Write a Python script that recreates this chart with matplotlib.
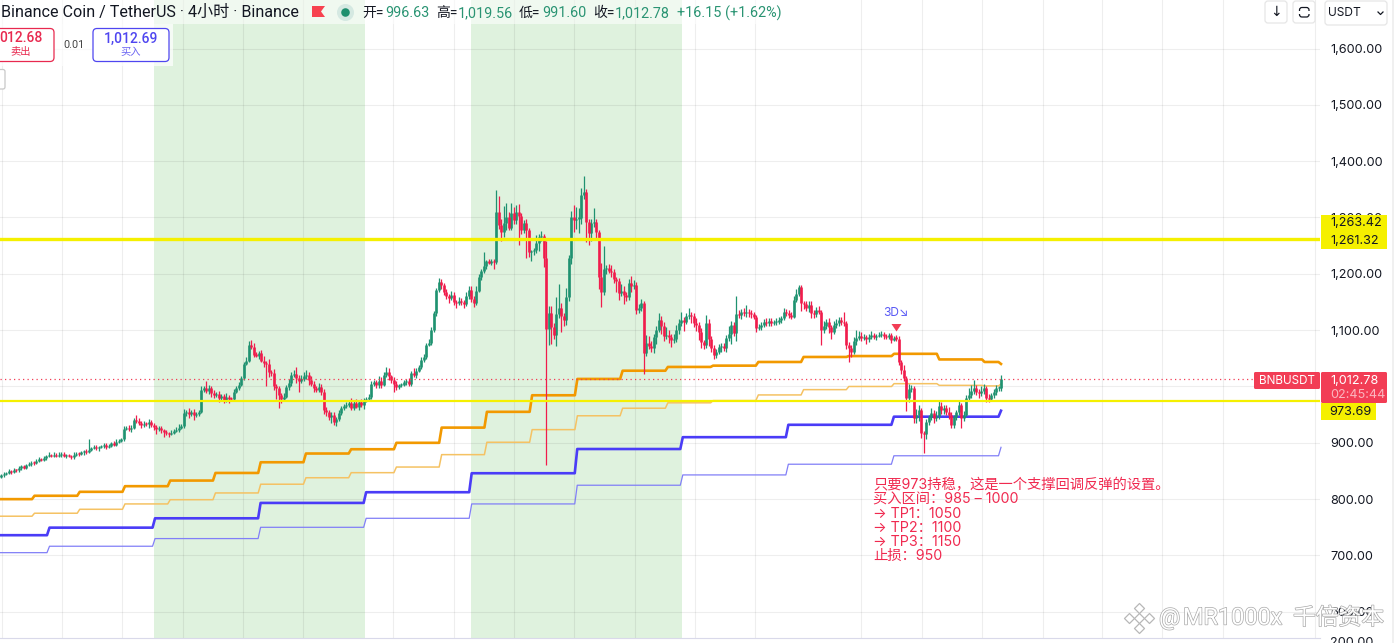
import matplotlib
matplotlib.use("Agg")
import matplotlib.patheffects as pe
import numpy as np
from matplotlib import pyplot as plt
from matplotlib.patches import FancyBboxPatch, Polygon, Rectangle

# 4小时收盘价, 每行 20 根
closes = [
    842,
    845, 846, 850, 848, 852, 851, 855, 858, 856, 860, 862, 865, 864, 868, 871, 870, 873, 876, 878, 877,
    879, 877, 878, 880, 876, 878, 877, 875, 879, 881, 880, 883, 885, 884, 888, 891, 893, 890, 892, 894,
    896, 893, 895, 899, 897, 902, 904, 906, 925, 926, 924, 927, 941, 938, 936, 932, 934, 933, 937, 931,
    928, 925, 927, 922, 919, 917, 915, 918, 921, 923, 926, 930, 953, 955, 951, 955, 949, 952, 955, 994,
    998, 992, 997, 989, 985, 987, 980, 983, 976, 982, 978, 977, 990, 997, 1003, 1015, 1040, 1046, 1074, 1070,
    1056, 1055, 1060, 1046, 1042, 1040, 1026, 1024, 1000, 997, 985, 978, 982, 999, 1006, 1020, 1022, 1015, 1010, 1014,
    1018, 1020, 1011, 1004, 997, 994, 999, 990, 958, 955, 946, 950, 937, 942, 953, 962, 965, 968, 971, 962,
    971, 964, 972, 968, 975, 978, 982, 1005, 1008, 1002, 1010, 1003, 1020, 1026, 1018, 1012, 1005, 999, 1002, 1003,
    1008, 1010, 1004, 1024, 1020, 1028, 1035, 1047, 1052, 1074, 1078, 1100, 1130, 1171, 1185, 1180, 1168, 1160, 1157, 1162,
    1150, 1148, 1152, 1150, 1146, 1160, 1172, 1155, 1149, 1170, 1195, 1205, 1213, 1222, 1220, 1222, 1221, 1310, 1287, 1274,
    1290, 1301, 1282, 1308, 1295, 1310, 1302, 1278, 1290, 1278, 1238, 1240, 1242, 1255, 1265, 1268, 1228, 1102, 1130, 1105,
    1092, 1128, 1140, 1125, 1118, 1159, 1228, 1300, 1295, 1298, 1299, 1340, 1345, 1292, 1272, 1290, 1292, 1275, 1195, 1168,
    1208, 1210, 1205, 1203, 1190, 1188, 1166, 1170, 1162, 1159, 1184, 1178, 1181, 1136, 1140, 1148, 1060, 1077, 1072, 1068,
    1088, 1100, 1118, 1108, 1090, 1092, 1088, 1082, 1085, 1100, 1112, 1118, 1115, 1125, 1127, 1125, 1113, 1110, 1097, 1079,
    1074, 1113, 1085, 1068, 1056, 1062, 1070, 1072, 1068, 1086, 1094, 1109, 1095, 1128, 1127, 1132, 1130, 1132, 1131, 1128,
    1123, 1104, 1105, 1110, 1115, 1112, 1116, 1113, 1114, 1115, 1118, 1122, 1132, 1130, 1127, 1124, 1154, 1165, 1177, 1148,
    1146, 1139, 1144, 1130, 1128, 1135, 1132, 1100, 1108, 1115, 1105, 1097, 1110, 1112, 1118, 1115, 1113, 1074, 1068, 1062,
    1080, 1086, 1090, 1086, 1088, 1084, 1088, 1092, 1087, 1090, 1092, 1094, 1090, 1088, 1092, 1083, 1086, 1085, 1044, 1030,
    1015, 979, 995, 997, 944, 950, 958, 918, 915, 937, 945, 953, 944, 948, 965, 958, 962, 955, 949, 932,
    945, 955, 968, 944, 950, 979, 985, 992, 997, 990, 988, 992, 997, 980, 978, 985, 990, 996.63, 996.63, 1012.78,
]
upper_wicks = [
    3,
    3, 2, 4, 2, 3, 2, 4, 3, 2, 3, 4, 2, 3, 4, 3, 2, 3, 3, 5, 2,
    4, 3, 5, 3, 4, 2, 3, 2, 4, 3, 2, 3, 3, 4, 19, 2, 4, 3, 3, 2,
    3, 4, 3, 2, 5, 4, 3, 3, 4, 3, 6, 4, 3, 9, 6, 3, 4, 3, 6, 4,
    5, 4, 3, 3, 2, 3, 2, 4, 3, 5, 8, 3, 7, 3, 6, 4, 5, 3, 4, 6,
    3, 12, 6, 4, 5, 3, 5, 3, 4, 6, 3, 4, 5, 3, 5, 4, 3, 6, 6, 8,
    8, 5, 3, 4, 9, 4, 8, 4, 7, 5, 4, 3, 6, 4, 8, 6, 7, 12, 5, 6,
    7, 10, 5, 8, 6, 4, 7, 5, 5, 6, 3, 4, 5, 3, 6, 4, 4, 5, 3, 8,
    3, 6, 4, 5, 4, 3, 5, 4, 3, 4, 8, 6, 5, 8, 6, 3, 5, 4, 3, 3,
    4, 3, 5, 3, 8, 4, 3, 5, 6, 4, 6, 5, 4, 3, 8, 6, 4, 5, 5, 7,
    5, 4, 6, 5, 4, 8, 6, 6, 5, 8, 4, 4, 26, 3, 5, 5, 5, 39, 28, 10,
    30, 25, 8, 18, 10, 12, 14, 6, 5, 8, 3, 3, 4, 14, 5, 8, 3, 30, 12, 12,
    8, 30, 42, 8, 6, 16, 6, 12, 22, 20, 18, 12, 29, 5, 5, 8, 25, 5, 3, 25,
    42, 5, 8, 10, 6, 4, 5, 12, 8, 5, 6, 12, 8, 4, 6, 8, 4, 14, 12, 8,
    6, 8, 12, 8, 6, 14, 8, 6, 8, 10, 8, 15, 5, 6, 12, 5, 6, 8, 5, 6,
    4, 14, 6, 5, 5, 5, 6, 6, 5, 6, 14, 8, 6, 33, 8, 6, 8, 12, 6, 5,
    5, 4, 6, 4, 5, 6, 5, 6, 4, 6, 5, 4, 8, 6, 5, 6, 6, 8, 3, 4,
    3, 6, 8, 8, 5, 6, 8, 4, 8, 5, 6, 4, 6, 8, 6, 5, 18, 3, 5, 6,
    8, 14, 8, 6, 5, 4, 5, 6, 3, 4, 4, 5, 3, 4, 3, 3, 4, 5, 4, 3,
    8, 3, 10, 5, 3, 10, 10, 4, 3, 6, 5, 8, 5, 8, 10, 8, 6, 5, 8, 5,
    5, 4, 8, 3, 6, 6, 12, 10, 14, 6, 5, 8, 8, 3, 6, 4, 5, 6, 5, 6.78,
]
lower_wicks = [
    2,
    2, 3, 2, 3, 2, 3, 2, 4, 2, 3, 2, 3, 4, 2, 2, 3, 2, 3, 2, 3,
    3, 2, 3, 4, 2, 3, 2, 4, 3, 2, 3, 2, 4, 3, 2, 3, 2, 3, 4, 2,
    3, 4, 2, 3, 2, 3, 2, 2, 3, 2, 3, 4, 2, 3, 4, 5, 4, 3, 6, 3,
    6, 9, 4, 5, 8, 3, 4, 2, 3, 2, 3, 2, 3, 5, 7, 3, 8, 3, 5, 2,
    4, 3, 6, 8, 5, 3, 7, 4, 6, 3, 8, 3, 3, 2, 3, 2, 3, 2, 2, 4,
    4, 3, 6, 3, 8, 40, 10, 5, 6, 20, 24, 8, 4, 3, 5, 6, 4, 8, 20, 4,
    5, 4, 8, 4, 7, 4, 4, 5, 6, 8, 5, 10, 6, 8, 3, 4, 4, 3, 5, 3,
    4, 3, 6, 4, 8, 3, 3, 4, 5, 4, 4, 5, 3, 4, 6, 5, 14, 5, 3, 3,
    3, 5, 4, 3, 3, 5, 3, 4, 3, 4, 3, 5, 4, 5, 4, 7, 6, 5, 8, 4,
    6, 8, 4, 6, 7, 3, 5, 5, 8, 4, 3, 6, 3, 4, 3, 4, 12, 4, 8, 15,
    8, 12, 5, 4, 6, 6, 51, 8, 6, 50, 8, 16, 6, 5, 14, 6, 16, 241, 28, 30,
    8, 20, 6, 28, 10, 8, 8, 10, 20, 15, 25, 10, 8, 35, 20, 14, 6, 12, 22, 27,
    6, 8, 4, 8, 6, 20, 12, 5, 16, 8, 5, 10, 5, 8, 5, 6, 38, 6, 5, 6,
    8, 12, 4, 14, 10, 5, 10, 12, 5, 6, 6, 5, 16, 4, 5, 12, 8, 12, 14, 10,
    8, 6, 14, 6, 8, 6, 5, 8, 5, 6, 5, 18, 6, 14, 6, 8, 5, 6, 8, 6,
    4, 8, 4, 5, 4, 5, 4, 6, 3, 5, 4, 6, 4, 5, 6, 5, 3, 4, 4, 14,
    8, 5, 6, 8, 6, 5, 4, 26, 5, 6, 10, 12, 4, 6, 5, 5, 6, 8, 24, 10,
    5, 6, 4, 5, 4, 8, 5, 4, 3, 4, 3, 4, 5, 3, 4, 5, 3, 4, 6, 8,
    6, 22, 6, 5, 8, 8, 12, 10, 33, 8, 6, 5, 8, 6, 5, 6, 6, 6, 6, 5,
    6, 5, 6, 17, 5, 3, 5, 6, 5, 6, 8, 5, 6, 8, 5, 4, 5, 6, 5, 5,
]

# 阶梯线, 橙色每 18 根一档, 蓝色每 42 根一档
orange_thick = [800, 806, 813, 823, 833, 846.5, 865.5, 881, 888.6, 900, 927, 955, 984.4,
                1013.4, 1028, 1034.7, 1037, 1043.5, 1052.4, 1054, 1058, 1048, 1043.5]
orange_thin = [769.7, 775, 782, 791.5, 799, 811, 826.5, 838, 847, 857, 879, 901, 923.4,
               948, 961.4, 971, 975, 985, 994.4, 1000, 1005, 1002, 1001]
blue_thick = [736, 749.4, 766, 793.3, 812.3, 846, 889, 910, 932, 946.4]
blue_thin = [705, 716.4, 730, 750, 766, 791.5, 824.7, 843, 862, 877]
orange_thick_last, orange_thin_last = 1040, 1004.5
blue_thick_last, blue_thin_last = 957, 892

price_ticks = [600, 700, 800, 900, 1000, 1100, 1200, 1300, 1400, 1500, 1600]
support_levels = [1261.32, 973.69]
last_price = 1012.78

note_lines = [
    "只要973持稳，这是一个支撑回调反弹的设置。",
    "买入区间：985 – 1000",
    "→ TP1：1050",
    "→ TP2：1100",
    "→ TP3：1150",
    "止损：950",
]
ohlc_labels = ["开=", "高=", "低=", "收="]
ohlc_values = ["996.63", "1,019.56", "991.60", "1,012.78"]

UP = "#1f9270"
DOWN = "#f01c4c"
ORANGE = "#f29900"
BLUE = "#4a3cf7"
YELLOW = "#f5f000"
RED = "#f23d55"
INK = "#131722"
CJK = ["Roboto", "Noto Sans CJK SC", "DejaVu Sans"]


def step_line(values, first_edge, width, end_value):
    # 每档之间带一点斜坡, 最后一段收在最新一根K线上
    xs, ys = [0], [values[0]]
    for k in range(1, len(values)):
        edge = first_edge + width * (k - 1)
        xs += [edge, edge + 2.5]
        ys += [values[k - 1], values[k]]
    xs += [998.5, 1001]
    ys += [values[-1], end_value]
    return xs, ys


def rounded(ui, x0, y0, x1, y1, edge, face="white", radius=4, lw=0.9):
    ui.add_patch(FancyBboxPatch((x0, y0), x1 - x0, y1 - y0,
                                boxstyle=f"round,pad=0,rounding_size={radius}",
                                edgecolor=edge, facecolor=face, linewidth=lw))


def draw_candles(ax):
    c = np.array(closes, dtype=float)
    o = np.r_[c[0] - 3, c[:-1]]
    high = np.maximum(o, c) + np.array(upper_wicks)
    low = np.minimum(o, c) - np.array(lower_wicks)
    x = 1001 - 2.5 * (len(c) - 1 - np.arange(len(c)))
    up = c >= o

    ax.vlines(x[up], low[up], high[up], color=UP, lw=0.9, zorder=4)
    ax.vlines(x[~up], low[~up], high[~up], color=DOWN, lw=0.9, zorder=4)
    # 实体至少留 1 像素高
    top = np.maximum(np.maximum(o, c), np.minimum(o, c) + 2)
    ax.vlines(x[up], np.minimum(o, c)[up], top[up], color=UP, lw=1.9, zorder=5)
    ax.vlines(x[~up], np.minimum(o, c)[~up], top[~up], color=DOWN, lw=1.9, zorder=5)


def draw_header(ui):
    ui.add_patch(Rectangle((0, 0), 790, 24, color="white", alpha=0.55, lw=0, zorder=0))
    ui.add_patch(Rectangle((0, 24), 173, 42, color="white", alpha=0.7, lw=0, zorder=0))
    ui.text(1, 12.8, "Binance Coin / TetherUS · 4小时 · Binance", family=CJK, fontsize=11.6,
            color=INK, va="center")
    ui.add_patch(Polygon([(312, 6), (325, 6), (321, 11.5), (325, 17), (312, 17)], color="#f7424f", lw=0))
    ui.scatter([345], [12], s=150, color="#d5e9e2", lw=0)
    ui.scatter([345], [12], s=38, color="#1e8f6e", lw=0)

    label_x = [362, 436, 519, 593]
    value_x = [385, 458, 542, 615]
    for lx, vx, label, value in zip(label_x, value_x, ohlc_labels, ohlc_values):
        ui.text(lx, 13, label, family=CJK, fontsize=10, color=INK, va="center")
        ui.text(vx, 13, value, family=CJK, fontsize=10.4, color="#2a9473", va="center")
    ui.text(677, 13, "+16.15 (+1.62%)", family=CJK, fontsize=10.4, color="#2a9473", va="center")

    rounded(ui, -8, 28.5, 54, 61.5, "#e8294f")
    ui.text(43, 38.5, "012.68", family=CJK, fontsize=10, color="#e8294f", ha="right", va="center", weight="medium")
    ui.text(21, 52, "卖出", family=CJK, fontsize=7.4, color="#e8294f", ha="center", va="center")
    ui.text(73.5, 45, "0.01", family=CJK, fontsize=7.8, color="#444", ha="center", va="center")
    rounded(ui, 93, 28.5, 169, 61.5, "#4f46f0")
    ui.text(131, 38.5, "1,012.69", family=CJK, fontsize=10, color="#4f46f0", ha="center", va="center", weight="medium")
    ui.text(131, 52, "买入", family=CJK, fontsize=7.4, color="#6a63f2", ha="center", va="center")
    rounded(ui, -8, 69.5, 5, 89, "#c8c8c8", radius=2)

    rounded(ui, 1265, 1, 1287, 23, "#e6e6e6", radius=3)
    ui.text(1276, 12, "↓", family="DejaVu Sans", fontsize=10, color=INK, ha="center", va="center")
    rounded(ui, 1293, 1, 1315, 23, "#e6e6e6", radius=3)
    rounded(ui, 1299.5, 7.5, 1309, 17, INK, radius=2.5, lw=0.9)
    ui.add_patch(Rectangle((1298, 11), 13, 2.5, color="white", lw=0, zorder=3))
    rounded(ui, 1325, 1, 1387, 25, "#e6e6e6", radius=3)
    ui.text(1328, 13, "USDT", family="Inter", fontsize=8.6, color=INK, va="center")
    ui.plot([1378, 1380.5, 1383], [12, 14.5, 12], color=INK, lw=0.9)
    ui.add_patch(Rectangle((1392, 0), 2, 643, color="#f0f0f0", lw=0))


def draw_scale_labels(ui):
    ui.add_patch(Rectangle((1321, 215), 66, 34, color=YELLOW, lw=0))
    ui.text(1330, 223.5, "1,263.42", family="Inter", fontsize=9.1, color=INK, va="center")
    ui.text(1330, 240.5, "1,261.32", family="Inter", fontsize=9.1, color=INK, va="center")

    rounded(ui, 1254, 372, 1320, 389, RED, face=RED, radius=1.5, lw=0)
    ui.text(1287, 380.5, "BNBUSDT", family="Inter", fontsize=8.4, color="white", ha="center", va="center")
    rounded(ui, 1321, 372, 1387, 403, RED, face=RED, radius=1.5, lw=0)
    ui.text(1330, 380.5, "1,012.78", family="Inter", fontsize=9.1, color="white", va="center")
    ui.text(1330, 395, "02:45:44", family="Inter", fontsize=9.1, color="#fbb6bf", va="center")
    ui.add_patch(Rectangle((1321, 403), 55, 17, color=YELLOW, lw=0))
    ui.text(1329, 412, "973.69", family="Inter", fontsize=9.1, color=INK, va="center")
    ui.text(1330, 643, "200.00", family="Inter", fontsize=9.1, color=INK, va="center")


def draw_notes(ui):
    ui.text(896, 313, "3D↘", family=["Inter", "DejaVu Sans"], fontsize=8.6, color="#5a5af5", ha="center", va="center")
    ui.add_patch(Polygon([(891.5, 324), (901.5, 324), (896.5, 331.5)], color=RED, lw=0))

    rows = [485.5, 500, 514, 528, 542, 556]
    for y, line in zip(rows, note_lines):
        ui.text(873, y, line, family=["Inter", "Noto Sans CJK SC", "DejaVu Sans"], fontsize=10.3,
                color="#f0294f", va="center")

    # 水印
    halo = [pe.withStroke(linewidth=1.0, foreground="#aaaaaa")]
    ui.text(1159, 618, "@", family="Roboto", fontsize=17, color="white", va="center", path_effects=halo)
    ui.text(1183, 618, "MR1000x", family="Roboto", fontsize=16.9, color="white", va="center", path_effects=halo)
    ui.text(1293, 618, "千倍资本", family="Noto Sans CJK SC", fontsize=16.4, color="white", va="center",
            path_effects=halo)
    ui.scatter([1139, 1139, 1129, 1149, 1139], [618, 608, 618, 618, 628], marker="D", s=26,
               color="white", edgecolor="#b8b8b8", lw=0.9)


def main():
    fig = plt.figure(figsize=(13.94, 6.43), dpi=100, facecolor="white")
    ax = fig.add_axes([0, 5 / 643, 1320 / 1394, 638 / 643])
    ax.set_xlim(0, 1320)
    ax.set_ylim(553.5, 1686.1)
    for spine in ax.spines.values():
        spine.set_visible(False)
    ax.spines["bottom"].set_visible(True)
    ax.spines["bottom"].set_color("#d9d9ea")
    ax.spines["bottom"].set_linewidth(0.8)

    ax.axvspan(154, 365, color="#dff2de", lw=0, zorder=0)
    ax.axvspan(471, 682, color="#dff2de", lw=0, zorder=0)

    ax.set_xticks([2, 62, 122, 183, 243, 303, 393, 454, 514, 574, 635, 695, 755, 861, 922, 982,
                   1043, 1102, 1162, 1223, 1315])
    ax.set_yticks(price_ticks)
    ax.set_yticklabels([f"{p:,.2f}" for p in price_ticks], family="Inter", fontsize=9.1, color=INK)
    ax.yaxis.tick_right()
    ax.tick_params(length=0, pad=7.2, labelbottom=False)
    ax.grid(True, color="black", alpha=0.065, lw=0.8, zorder=1)
    ax.set_axisbelow(True)

    ax.plot(*step_line(orange_thin, 32, 45.24, orange_thin_last), color="#f5c263", lw=1.1, zorder=3)
    ax.plot(*step_line(orange_thick, 32, 45.24, orange_thick_last), color=ORANGE, lw=1.9, zorder=3)
    ax.plot(*step_line(blue_thin, 47, 105.55, blue_thin_last), color="#817ff7", lw=0.9, zorder=3)
    ax.plot(*step_line(blue_thick, 47, 105.55, blue_thick_last), color=BLUE, lw=1.9, zorder=3)

    draw_candles(ax)

    ax.axhline(last_price, color=RED, lw=0.9, ls=(0, (1, 2.6)), zorder=6)
    ax.axhline(support_levels[0], color=YELLOW, lw=2.4, zorder=7)
    ax.axhline(support_levels[1], color=YELLOW, lw=1.6, zorder=7)

    ui = fig.add_axes([0, 0, 1, 1], facecolor="none")
    ui.set_xlim(0, 1394)
    ui.set_ylim(643, 0)
    ui.axis("off")

    draw_header(ui)
    draw_scale_labels(ui)
    draw_notes(ui)

    fig.savefig("out.png", dpi=100)


if __name__ == "__main__":
    main()
